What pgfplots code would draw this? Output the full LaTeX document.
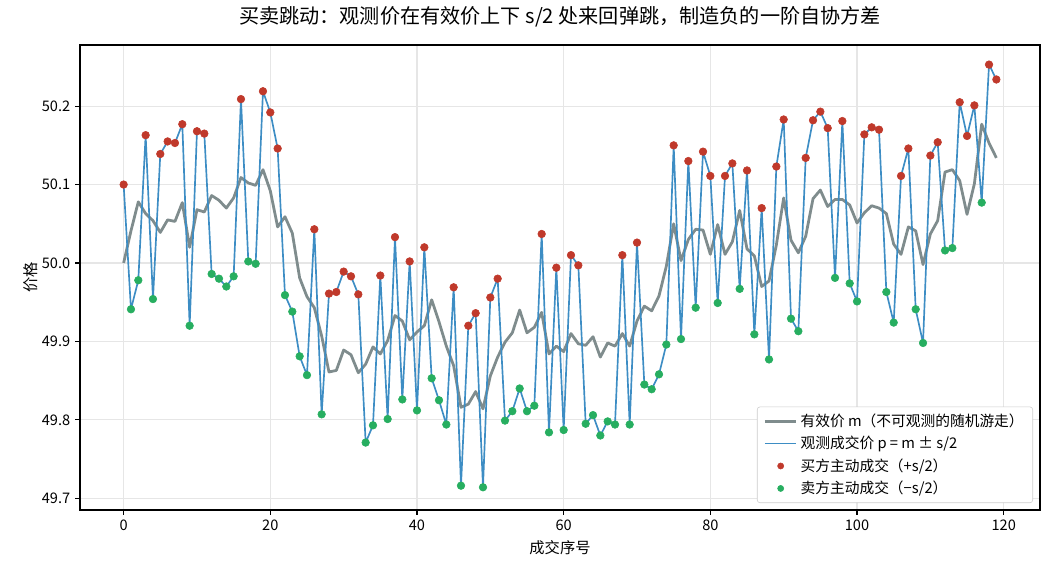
\documentclass[border=0pt]{standalone}
\usepackage{fontspec}
\setmainfont{Noto Sans CJK SC}
\usepackage{pgfplots}
\pgfplotsset{compat=1.18}
\usepackage{pgfplotstable}

\definecolor{effgray}{HTML}{7F8C8D}
\definecolor{tradeblue}{HTML}{3D8DC4}
\definecolor{buyred}{HTML}{C0392B}
\definecolor{sellgreen}{HTML}{27AE60}
\definecolor{gridgray}{HTML}{E6E6E6}
\definecolor{legedge}{HTML}{CCCCCC}

% x: trade index, m: efficient price, p: observed trade price,
% b: trade side (1 = buyer-initiated, -1 = seller-initiated)
\pgfplotstableread{
x m p b
0 50.000 50.100 1
1 50.041 49.941 -1
2 50.078 49.978 -1
3 50.063 50.163 1
4 50.054 49.954 -1
5 50.039 50.139 1
6 50.055 50.155 1
7 50.053 50.153 1
8 50.077 50.177 1
9 50.020 49.920 -1
10 50.068 50.168 1
11 50.065 50.165 1
12 50.086 49.986 -1
13 50.080 49.980 -1
14 50.070 49.970 -1
15 50.083 49.983 -1
16 50.109 50.209 1
17 50.102 50.002 -1
18 50.099 49.999 -1
19 50.119 50.219 1
20 50.092 50.192 1
21 50.046 50.146 1
22 50.059 49.959 -1
23 50.038 49.938 -1
24 49.981 49.881 -1
25 49.957 49.857 -1
26 49.943 50.043 1
27 49.907 49.807 -1
28 49.861 49.961 1
29 49.863 49.963 1
30 49.889 49.989 1
31 49.883 49.983 1
32 49.860 49.960 1
33 49.871 49.771 -1
34 49.893 49.793 -1
35 49.884 49.984 1
36 49.901 49.801 -1
37 49.933 50.033 1
38 49.926 49.826 -1
39 49.902 50.002 1
40 49.912 49.812 -1
41 49.920 50.020 1
42 49.953 49.853 -1
43 49.925 49.825 -1
44 49.894 49.794 -1
45 49.869 49.969 1
46 49.816 49.716 -1
47 49.820 49.920 1
48 49.836 49.936 1
49 49.814 49.714 -1
50 49.856 49.956 1
51 49.880 49.980 1
52 49.899 49.799 -1
53 49.911 49.811 -1
54 49.940 49.840 -1
55 49.911 49.811 -1
56 49.918 49.818 -1
57 49.937 50.037 1
58 49.884 49.784 -1
59 49.894 49.994 1
60 49.887 49.787 -1
61 49.910 50.010 1
62 49.897 49.997 1
63 49.895 49.795 -1
64 49.906 49.806 -1
65 49.880 49.780 -1
66 49.898 49.798 -1
67 49.894 49.794 -1
68 49.910 50.010 1
69 49.894 49.794 -1
70 49.926 50.026 1
71 49.945 49.845 -1
72 49.939 49.839 -1
73 49.958 49.858 -1
74 49.996 49.896 -1
75 50.050 50.150 1
76 50.003 49.903 -1
77 50.030 50.130 1
78 50.043 49.943 -1
79 50.042 50.142 1
80 50.011 50.111 1
81 50.049 49.949 -1
82 50.011 50.111 1
83 50.027 50.127 1
84 50.067 49.967 -1
85 50.018 50.118 1
86 50.009 49.909 -1
87 49.970 50.070 1
88 49.977 49.877 -1
89 50.023 50.123 1
90 50.083 50.183 1
91 50.029 49.929 -1
92 50.013 49.913 -1
93 50.034 50.134 1
94 50.082 50.182 1
95 50.093 50.193 1
96 50.072 50.172 1
97 50.081 49.981 -1
98 50.081 50.181 1
99 50.074 49.974 -1
100 50.051 49.951 -1
101 50.064 50.164 1
102 50.073 50.173 1
103 50.070 50.170 1
104 50.063 49.963 -1
105 50.024 49.924 -1
106 50.011 50.111 1
107 50.046 50.146 1
108 50.041 49.941 -1
109 49.998 49.898 -1
110 50.037 50.137 1
111 50.054 50.154 1
112 50.116 50.016 -1
113 50.119 50.019 -1
114 50.105 50.205 1
115 50.062 50.162 1
116 50.101 50.201 1
117 50.177 50.077 -1
118 50.153 50.253 1
119 50.134 50.234 1
}\trades

\begin{document}
\begin{tikzpicture}
\begin{axis}[
  scale only axis,
  width=691.2pt, height=334.8pt,
  xmin=-5.95, xmax=124.95,
  ymin=49.685, ymax=50.278,
  xtick={0,20,40,60,80,100,120},
  ytick={49.7,49.8,49.9,50.0,50.1,50.2},
  yticklabel style={/pgf/number format/.cd, fixed, fixed zerofill, precision=1},
  /pgf/number format/assume math mode=true,
  tick label style={font=\fontsize{10.5}{12}\selectfont},
  tick align=outside,
  major tick length=3.5pt,
  tick style={black, line width=0.8pt},
  xtick pos=bottom, ytick pos=left,
  axis line style={black, line width=0.8pt},
  grid=major,
  grid style={gridgray, line width=0.8pt},
  title={买卖跳动：观测价在有效价上下 s/2 处来回弹跳，制造负的一阶自协方差},
  title style={at={(axis description cs:0.5,1.028)}, anchor=base, font=\fontsize{14.5}{16}\selectfont},
  xlabel={成交序号},
  xlabel style={at={(axis description cs:0.5,-0.0946)}, anchor=base, font=\fontsize{11}{13}\selectfont},
  ylabel={价格},
  ylabel style={at={(axis description cs:-0.0458,0.5)}, anchor=base, rotate=0, font=\fontsize{11}{13}\selectfont},
  legend cell align=left,
  legend style={
    at={(axis description cs:0.9927,0.015)}, anchor=south east,
    font=\fontsize{10.6}{12.5}\selectfont,
    draw=legedge, rounded corners=2pt, fill=white,
    row sep=1.6pt, inner xsep=4.5pt, inner ysep=3pt,
    /tikz/every even column/.append style={column sep=2pt},
  },
]
\addplot[effgray, line width=2pt, line join=round,
  legend image code/.code={\draw[effgray, line width=2pt] (0cm,0cm) -- (0.8cm,0cm);}]
  table[x=x, y=m] {\trades};
\addlegendentry{有效价 m（不可观测的随机游走）}

\addplot[tradeblue, line width=1.2pt, line join=round,
  legend image code/.code={\draw[tradeblue, line width=1.2pt] (0cm,0cm) -- (0.8cm,0cm);}]
  table[x=x, y=p] {\trades};
\addlegendentry{观测成交价 p = m ± s/2}

\addplot[only marks, mark=*, mark size=2.75pt, mark options={draw=buyred, fill=buyred},
  restrict expr to domain={\thisrow{b}}{0.5:1.5},
  legend image code/.code={\fill[buyred] (0.4cm,0cm) circle (2.2pt);}]
  table[x=x, y=p] {\trades};
\addlegendentry{买方主动成交（+s/2）}

\addplot[only marks, mark=*, mark size=2.75pt, mark options={draw=sellgreen, fill=sellgreen},
  restrict expr to domain={\thisrow{b}}{-1.5:-0.5},
  legend image code/.code={\fill[sellgreen] (0.4cm,0cm) circle (2.2pt);}]
  table[x=x, y=p] {\trades};
\addlegendentry{卖方主动成交（−s/2）}
\end{axis}
\pgfresetboundingbox
\path ([xshift=-57.6pt,yshift=-44.64pt]current axis.south west)
  rectangle ([xshift=11.52pt,yshift=32.4pt]current axis.north east);
\end{tikzpicture}
\end{document}
